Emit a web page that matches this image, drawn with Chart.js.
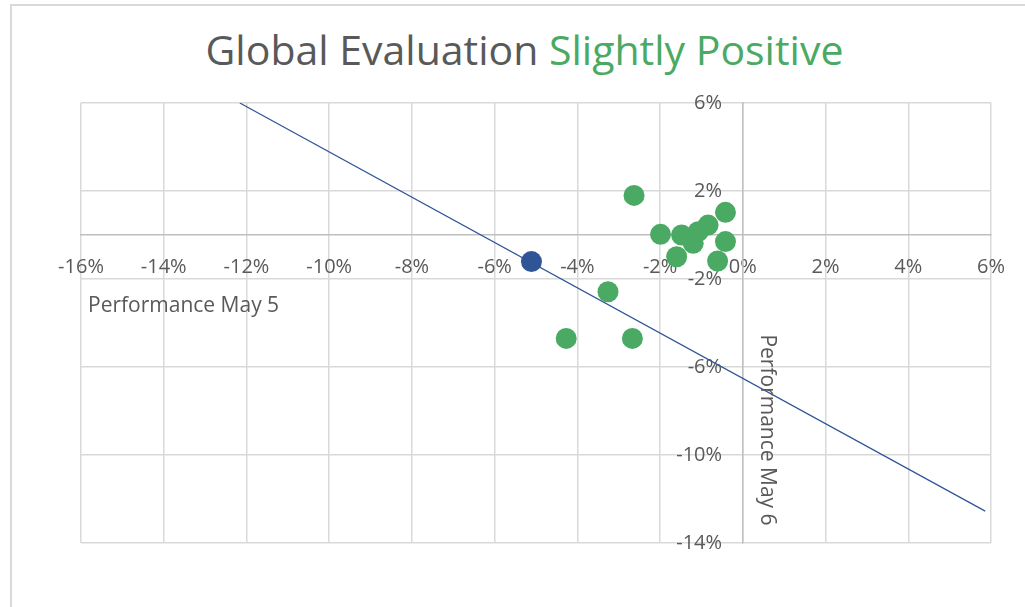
<!DOCTYPE html>
<html>
<head>
<meta charset="utf-8">
<script src="https://cdn.jsdelivr.net/npm/chart.js@4/dist/chart.umd.min.js"></script>
<style>
  body { margin: 0; background: #fff; }
  #wrap { position: relative; width: 1025px; height: 607px; overflow: hidden; }
  #frame { position: absolute; left: 10px; top: 4px; width: 1100px; height: 700px;
           border-top: 2px solid #d9d9d9; border-left: 2px solid #d9d9d9; }
  #title { position: absolute; left: 0; width: 1049px; top: 22px; text-align: center; line-height: 54px;
           font-family: "Open Sans", sans-serif; font-size: 41px; color: #595959; }
  #title span { color: #4aaa64; }
  canvas { position: absolute; left: 0; top: 0; }
</style>
</head>
<body>
<div id="wrap">
  <div id="frame"></div>
  <div id="title">Global Evaluation <span>Slightly Positive</span></div>
  <canvas id="myChart" width="1025" height="607"></canvas>
</div>
<script>
// valeurs (en %)
const greenX = [-2.63, -1.99, -1.48, -1.60, -1.20, -1.08, -0.84, -0.42, -0.42, -0.61, -3.26, -4.27, -2.67];
const greenY = [1.80, 0.03, 0.00, -0.99, -0.38, 0.15, 0.45, 1.03, -0.30, -1.18, -2.58, -4.70, -4.70];
const blueX = [-5.11];
const blueY = [-1.21];
// tendance lineaire (debut / fin)
const trendX = [-12.16, 5.86];
const trendY = [6.0, -12.55];

const xTicks = [-16, -14, -12, -10, -8, -6, -4, -2, 0, 2, 4, 6];
const yTicks = [-14, -10, -6, -2, 2, 6];
const xTitle = 'Performance May 5';
const yTitle = 'Performance May 6';

const grey = '#595959';
const font = { family: '"Open Sans", sans-serif', size: 20 };

function toPoints(xs, ys) {
    return xs.map((x, i) => ({ x: x, y: ys[i] }));
}

// titres des axes, places comme dans excel
const axisTitles = {
    id: 'axisTitles',
    afterDraw(chart) {
        const c = chart.ctx;
        const xs = chart.scales.x, ys = chart.scales.y;
        const x0 = xs.getPixelForValue(0);
        const y0 = ys.getPixelForValue(0);
        c.save();
        c.fillStyle = grey;
        c.font = '21px "Open Sans", sans-serif';
        c.textBaseline = 'middle';
        c.textAlign = 'left';
        c.fillText(xTitle, chart.chartArea.left + 7, y0 + 71);
        c.translate(x0 + 24, y0 + 195);
        c.rotate(Math.PI / 2);
        c.textAlign = 'center';
        c.fillText(yTitle, 0, 0);
        c.restore();
    }
};

const ctx = document.getElementById('myChart');
const graphique = new Chart(ctx.getContext('2d'), {
    type: 'scatter',
    data: {
        datasets: [{
            label: 'points',
            data: toPoints(greenX, greenY),
            backgroundColor: '#4aaa64',
            borderWidth: 0,
            pointRadius: 10.5,
            order: 1
        }, {
            label: 'selection',
            data: toPoints(blueX, blueY),
            backgroundColor: '#2f5597',
            borderWidth: 0,
            pointRadius: 10.5,
            order: 0
        }, {
            label: 'tendance',
            data: toPoints(trendX, trendY),
            showLine: true,
            borderColor: '#2f5597',
            borderWidth: 1.2,
            pointRadius: 0,
            order: 2
        }]
    },
    options: {
        responsive: false,
        animation: false,
        layout: { padding: { left: 81, top: 103, right: 31, bottom: 64 } },
        plugins: { legend: { display: false }, tooltip: { enabled: false } },
        scales: {
            x: {
                type: 'linear',
                position: { y: 0 },
                min: -16, max: 6,
                afterBuildTicks: s => { s.ticks = xTicks.map(v => ({ value: v })); },
                grid: { color: '#d9d9d9', lineWidth: 1.5, drawTicks: false },
                border: { color: '#bfbfbf', width: 1.5 },
                ticks: { color: grey, font: font, padding: 20, maxRotation: 0, callback: v => v + '%' }
            },
            y: {
                type: 'linear',
                position: { x: 0 },
                min: -14, max: 6,
                afterBuildTicks: s => { s.ticks = yTicks.map(v => ({ value: v })); },
                grid: { color: '#d9d9d9', lineWidth: 1.5, drawTicks: false },
                border: { color: '#bfbfbf', width: 1.5 },
                // padding ignore quand l'axe est place a x=0, donc des espaces
                ticks: { color: grey, font: font, callback: v => v + '%    ' }
            }
        }
    },
    plugins: [axisTitles]
});
</script>
</body>
</html>
